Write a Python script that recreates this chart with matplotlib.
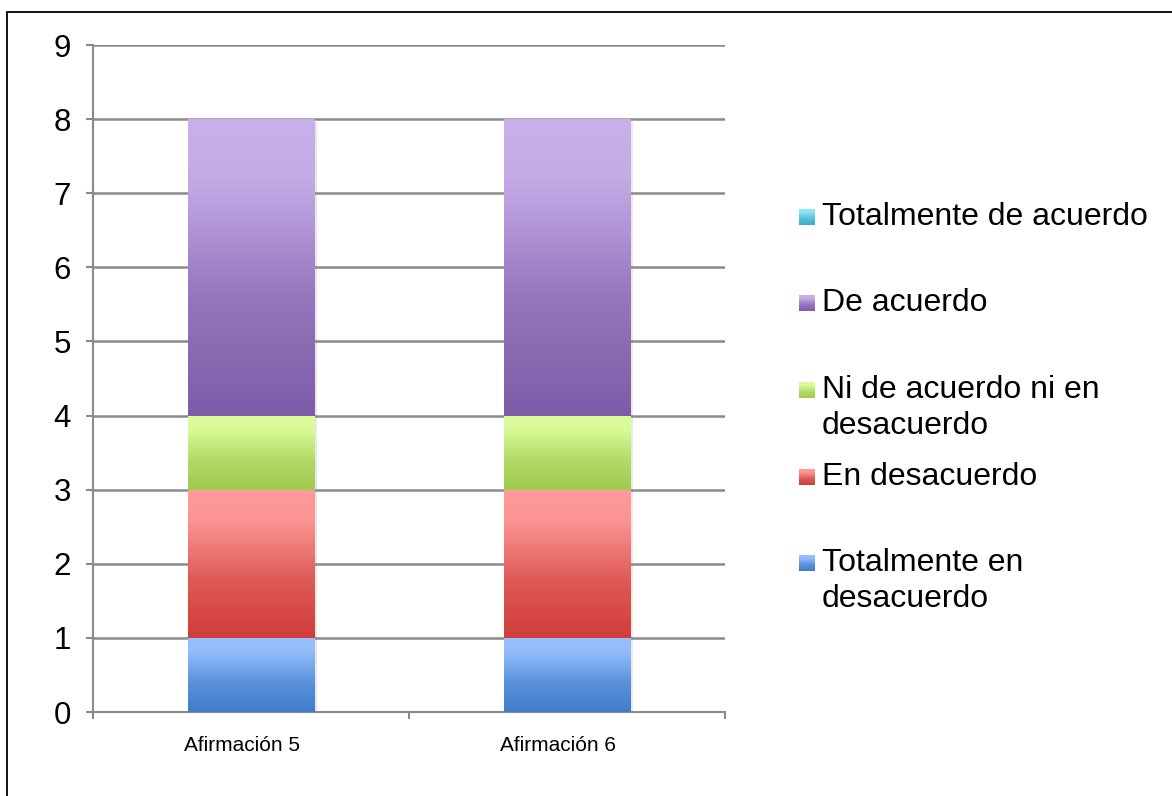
import numpy as np
import matplotlib as mpl
mpl.use('Agg')
import matplotlib.pyplot as plt
from matplotlib.colors import LinearSegmentedColormap, to_rgb
from matplotlib.patches import Rectangle
import matplotlib.patheffects as pe


categories = ['Afirmación 5', 'Afirmación 6']
series     = ['Totalmente en\ndesacuerdo', 'En desacuerdo',
              'Ni de acuerdo ni en\ndesacuerdo', 'De acuerdo',
              'Totalmente de acuerdo']
values     = [[1, 1],   # Totalmente en desacuerdo
              [2, 2],   # En desacuerdo
              [1, 1],   # Ni de acuerdo ni en desacuerdo
              [4, 4],   # De acuerdo
              [0, 0]]   # Totalmente de acuerdo
y_ticks    = [0, 1, 2, 3, 4, 5, 6, 7, 8, 9]

# (top colour, bottom colour) of the vertical gradient of each series
grad_cols  = [('#97c0fd', '#3e7dcb'),
              ('#ff9b9a', '#d03d38'),
              ('#dbfe9b', '#a0c94f'),
              ('#c8b0ea', '#7e5ba8'),
              ('#93e6f8', '#3aaecb')]

grid_col = '#8a8a8a'

plt.rcParams['font.family'] = ['Liberation Sans', 'DejaVu Sans']

fig = plt.figure(figsize=(11.72, 7.96), dpi=100)
W, H = 1172.0, 796.0
ax = fig.add_axes([93 / W, 1 - 712 / H, (725 - 93) / W, (712 - 45) / H])


def make_cmap(top, bot):
	t, b = np.array(to_rgb(top)), np.array(to_rgb(bot))
	# light for the first part, then darkening towards the bottom
	stops = [(0.0, 0.0), (0.2, 0.06), (0.6, 0.68), (1.0, 1.0)]
	cols = [(p, tuple(t + (b - t) * f)) for p, f in stops]
	return LinearSegmentedColormap.from_list('g', cols)


x = np.arange(len(categories))
bottom = np.zeros(len(categories))
grad = np.linspace(0, 1, 256).reshape(-1, 1)
for vals, (top, bot) in zip(values, grad_cols):
	bars = ax.bar(x, vals, 0.4, bottom=bottom, color=bot, zorder=2,
		path_effects=[pe.SimplePatchShadow(offset=(2, -2), shadow_rgbFace='0.5', alpha=0.18), pe.Normal()])
	cmap = make_cmap(top, bot)
	for b in bars:
		if b.get_height() <= 0:
			continue
		x0, y0 = b.get_x(), b.get_y()
		ax.imshow(grad, cmap=cmap, aspect='auto', zorder=3, interpolation='bilinear',
			extent=[x0, x0 + b.get_width(), y0, y0 + b.get_height()], origin='upper')
	bottom = bottom + np.array(vals)

ax.set_xlim(-0.5, len(categories) - 0.5)
ax.set_ylim(0, 9)
ax.set_yticks(y_ticks)
ax.set_xticks(x - 0.03)
ax.set_xticklabels(categories, fontsize=15)
ax.set_xticks(np.arange(len(categories) + 1) - 0.5, minor=True)
ax.tick_params(axis='x', which='major', length=0, pad=17)
ax.tick_params(axis='x', which='minor', length=5, width=1.5, color=grid_col, direction='out')
ax.tick_params(axis='y', length=5, width=1.5, color=grid_col, labelsize=22.5, pad=11)

ax.yaxis.grid(True, color=grid_col, lw=1.8)
ax.set_axisbelow(True)
for s in ['top', 'right']:
	ax.spines[s].set_visible(False)
for s in ['left', 'bottom']:
	ax.spines[s].set_color(grid_col)
	ax.spines[s].set_linewidth(1.5)

# legend, top to bottom in reverse series order
leg_y = [217, 303, 390, 477, 563]
for i, k in enumerate(range(len(series) - 1, -1, -1)):
	yc = 1 - leg_y[i] / H
	cm = make_cmap(*grad_cols[k])
	lax = fig.add_axes([799 / W, yc - 8 / H, 16 / W, 16 / H])
	lax.imshow(grad, cmap=cm, aspect='auto', interpolation='bilinear')
	lax.axis('off')
	fig.text(822 / W, yc + 15 / H, series[k], fontsize=23, va='top', ha='left',
		linespacing=1.27, transform=fig.transFigure)

# outer frame of the chart area
fig.patches.append(Rectangle((7 / W, -0.1), 1.2, 1 - 12 / H + 0.1, transform=fig.transFigure,
	fill=False, edgecolor='black', lw=1.3))

fig.savefig('out.png', dpi=100)
